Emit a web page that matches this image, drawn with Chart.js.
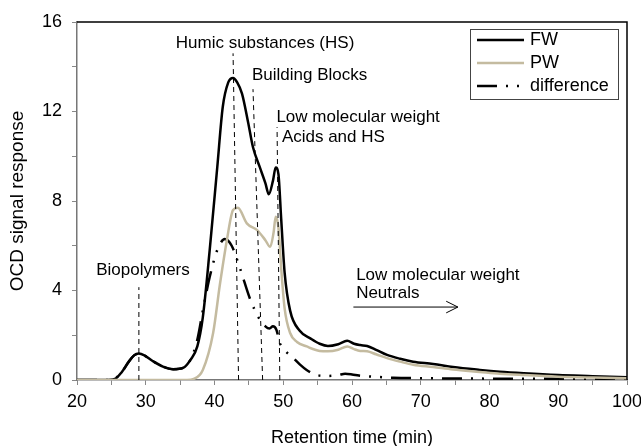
<!DOCTYPE html>
<html>
<head>
<meta charset="utf-8">
<script src="https://cdn.jsdelivr.net/npm/chart.js@4"></script>
<style>
html, body { margin: 0; padding: 0; background: #fff; }
</style>
</head>
<body>
<canvas id="ocd-chart" width="641" height="446"></canvas>
<script>
// values
const fwTime = [20, 24, 25.5, 26.5, 27.5, 28.3, 29, 29.8, 31, 32.5, 34, 35.5, 36.5, 37.5, 38.3, 39.3, 40.4, 41.2, 42, 42.7, 43.3, 44, 44.9, 45.6, 46.6, 47.4, 47.9, 48.5, 48.9, 49.3, 49.7, 50.2, 51, 52.4, 54, 55.3, 56.5, 58, 59.3, 60.3, 61.2, 62.2, 63.5, 65.1, 67, 68.9, 71.8, 74.7, 78.6, 81.5, 85, 90, 95, 100];
const fwSignal = [0, 0, 0.05, 0.35, 0.8, 1.1, 1.18, 1.1, 0.85, 0.6, 0.48, 0.55, 0.9, 1.5, 2.8, 5.8, 9.5, 12.2, 13.3, 13.5, 13.3, 12.8, 11.5, 10.4, 9.5, 8.8, 8.3, 8.9, 9.5, 9.2, 7.2, 4.8, 3.1, 2.2, 1.85, 1.62, 1.52, 1.6, 1.75, 1.62, 1.56, 1.52, 1.35, 1.12, 0.95, 0.82, 0.72, 0.58, 0.45, 0.37, 0.3, 0.22, 0.17, 0.12];

const pwTime = [20, 30, 36, 37, 38.3, 39.8, 40.8, 41.8, 42.7, 43.4, 44.7, 46.2, 47.4, 48.1, 48.6, 48.9, 49.3, 49.7, 50.2, 51, 52, 53.4, 55.3, 56.5, 58, 59.3, 60.3, 61.2, 62.2, 63.5, 65.1, 67, 68.9, 71.8, 74.7, 78.6, 81.5, 85, 90, 95, 100];
const pwSignal = [0, 0, 0, 0.05, 0.45, 2.1, 4.3, 6.25, 7.6, 7.7, 7.0, 6.7, 6.25, 5.95, 6.6, 7.3, 6.8, 5.0, 3.2, 2.1, 1.7, 1.5, 1.3, 1.28, 1.35, 1.5, 1.38, 1.3, 1.28, 1.15, 0.98, 0.82, 0.68, 0.58, 0.47, 0.36, 0.28, 0.22, 0.15, 0.11, 0.08];

const diffTime = [20, 25, 26.5, 27.5, 28.3, 29, 29.8, 31, 32.5, 34, 35.5, 36.5, 37.5, 38.3, 39.3, 40.4, 41.5, 42.5, 43.7, 45.2, 46.4, 47.4, 48, 48.5, 49, 49.5, 50.3, 51.4, 52.4, 53.4, 54.9, 56.5, 58, 59, 60, 61, 63, 66, 70, 80, 90, 100];
const diffSignal = [0, 0, 0.35, 0.8, 1.1, 1.18, 1.1, 0.85, 0.6, 0.48, 0.55, 0.9, 1.8, 3.1, 4.6, 5.8, 6.3, 6.0, 5.0, 3.6, 2.8, 2.4, 2.3, 2.4, 2.25, 1.65, 1.3, 1.0, 0.7, 0.45, 0.22, 0.18, 0.22, 0.28, 0.25, 0.2, 0.15, 0.1, 0.08, 0.06, 0.05, 0.03];

// fraction markers (dashed lines), bottom and top ends
const markerBottomX = [29, 43.5, 47.0, 49.5];
const markerTopX = [29, 42.7, 45.6, 49.1];
const markerTopY = [4.15, 14.6, 13.0, 11.3];

// neutrals arrow
const arrowX = [60.2, 75.4];
const arrowY = [3.26, 3.26];
const arrowHeadX = [73.7, 75.4, 73.7];
const arrowHeadY = [3.52, 3.26, 3.0];

const xTickLabels = [20, 30, 40, 50, 60, 70, 80, 90, 100];
const yTickLabels = [0, 4, 8, 12, 16];

const PW_COLOR = '#c4bba0';
const DIFF_DASH = [20, 9, 2, 9, 2, 9];

function toPoints(xs, ys) {
  return xs.map((x, i) => ({ x: x, y: ys[i] }));
}

const markerSets = markerBottomX.map((bx, i) => ({
  data: [{ x: bx, y: 0 }, { x: markerTopX[i], y: markerTopY[i] }],
  borderColor: '#000',
  borderWidth: 1,
  borderDash: [5, 4],
  tension: 0
}));

const textLabels = [
  { text: 'Biopolymers', x: 29.6, y: 4.9, align: 'center' },
  { text: 'Humic substances (HS)', x: 47.35, y: 15.05, align: 'center' },
  { text: 'Building Blocks', x: 45.45, y: 13.6, align: 'left' },
  { text: 'Low molecular weight', x: 49.0, y: 11.74, align: 'left' },
  { text: 'Acids and HS', x: 49.8, y: 10.85, align: 'left' },
  { text: 'Low molecular weight', x: 60.6, y: 4.69, align: 'left' },
  { text: 'Neutrals', x: 60.6, y: 3.88, align: 'left' }
];

const annotations = {
  id: 'annotations',
  afterDatasetsDraw(chart) {
    const ctx = chart.ctx;
    const xs = chart.scales.x, ys = chart.scales.y;
    ctx.save();
    ctx.fillStyle = '#000';
    ctx.font = '17px "Liberation Sans", Arial, sans-serif';
    ctx.textBaseline = 'middle';
    textLabels.forEach((l) => {
      ctx.textAlign = l.align;
      ctx.fillText(l.text, xs.getPixelForValue(l.x), ys.getPixelForValue(l.y));
    });

    // frame on top and right
    const a = chart.chartArea;
    ctx.strokeStyle = '#000';
    ctx.lineWidth = 1.5;
    ctx.beginPath();
    ctx.moveTo(a.left, a.top);
    ctx.lineTo(a.right, a.top);
    ctx.lineTo(a.right, a.bottom);
    ctx.stroke();
    ctx.restore();
  }
};

const boxLegend = {
  id: 'boxLegend',
  afterDraw(chart) {
    const ctx = chart.ctx;
    const a = chart.chartArea;
    const x0 = a.right - 157, y0 = a.top + 7;
    ctx.save();
    ctx.fillStyle = '#fff';
    ctx.fillRect(x0, y0, 148, 70);
    ctx.strokeStyle = '#444';
    ctx.lineWidth = 1;
    ctx.strokeRect(x0 + 0.5, y0 + 0.5, 148, 70);

    const items = [
      { label: 'FW', color: '#000', dash: [] },
      { label: 'PW', color: PW_COLOR, dash: [] },
      { label: 'difference', color: '#000', dash: DIFF_DASH }
    ];
    ctx.font = '18px "Liberation Sans", Arial, sans-serif';
    ctx.textBaseline = 'middle';
    ctx.textAlign = 'left';
    items.forEach((it, i) => {
      const y = y0 + 11 + i * 23;
      ctx.strokeStyle = it.color;
      ctx.lineWidth = 2.5;
      ctx.setLineDash(it.dash);
      ctx.beginPath();
      ctx.moveTo(x0 + 7, y);
      ctx.lineTo(x0 + 54, y);
      ctx.stroke();
      ctx.setLineDash([]);
      ctx.fillStyle = '#000';
      ctx.fillText(it.label, x0 + 60, y);
    });
    ctx.restore();
  }
};

Chart.defaults.font.family = '"Liberation Sans", Arial, sans-serif';
Chart.defaults.color = '#000';

const ctx = document.getElementById('ocd-chart').getContext('2d');
new Chart(ctx, {
  type: 'line',
  data: {
    datasets: [
      ...markerSets,
      {
        data: toPoints(arrowX, arrowY),
        borderColor: '#000', borderWidth: 1, tension: 0
      },
      {
        data: toPoints(arrowHeadX, arrowHeadY),
        borderColor: '#000', borderWidth: 1, tension: 0
      },
      {
        label: 'PW',
        data: toPoints(pwTime, pwSignal),
        borderColor: PW_COLOR, borderWidth: 2.5,
        cubicInterpolationMode: 'monotone'
      },
      {
        label: 'difference',
        data: toPoints(diffTime, diffSignal),
        borderColor: '#000', borderWidth: 2.5, borderDash: DIFF_DASH,
        cubicInterpolationMode: 'monotone'
      },
      {
        label: 'FW',
        data: toPoints(fwTime, fwSignal),
        borderColor: '#000', borderWidth: 2.5,
        cubicInterpolationMode: 'monotone'
      }
    ]
  },
  options: {
    responsive: false,
    animation: false,
    layout: { padding: { top: 22, right: 14, left: 0, bottom: 0 } },
    elements: { point: { radius: 0 } },
    plugins: {
      legend: { display: false },
      tooltip: { enabled: false }
    },
    scales: {
      x: {
        type: 'linear',
        min: 20,
        max: 100,
        ticks: {
          stepSize: 5,
          autoSkip: false,
          maxRotation: 0,
          padding: 6,
          font: { size: 18 },
          callback: (v) => (xTickLabels.includes(v) ? v : '')
        },
        grid: { drawOnChartArea: false, tickLength: 5, color: '#888' },
        border: { color: '#777', width: 1.5 },
        title: {
          display: true,
          text: 'Retention time (min)',
          font: { size: 18 },
          padding: { top: 0, bottom: -3 }
        },
        afterFit(scale) {
          scale.height = 66;
          scale.paddingLeft = 0;
          scale.paddingRight = 0;
        }
      },
      y: {
        min: 0,
        max: 16,
        ticks: {
          stepSize: 2,
          autoSkip: false,
          padding: 10,
          font: { size: 18 },
          callback: (v) => (yTickLabels.includes(v) ? v : '')
        },
        grid: { drawOnChartArea: false, tickLength: 5, color: '#888' },
        border: { color: '#777', width: 1.5 },
        title: {
          display: true,
          text: 'OCD signal response',
          font: { size: 19 },
          padding: { top: 6, bottom: 0 }
        },
        afterFit(scale) { scale.width = 77; }
      }
    }
  },
  plugins: [annotations, boxLegend]
});
</script>
</body>
</html>
